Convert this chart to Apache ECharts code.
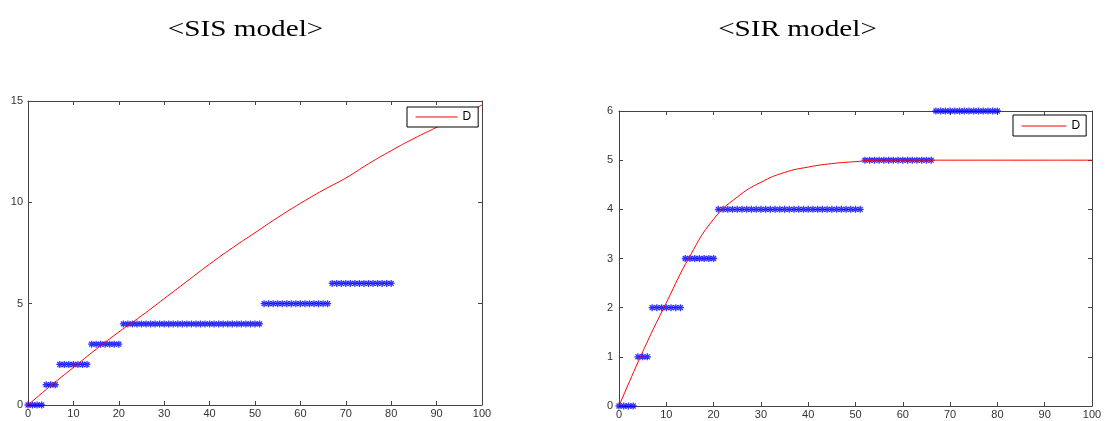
<!DOCTYPE html>
<html>
<head>
<meta charset="utf-8">
<script src="https://cdn.jsdelivr.net/npm/echarts@6/dist/echarts.min.js"></script>
<style>
html,body{margin:0;padding:0;background:#fff;}
#chart{width:1110px;height:421px;}
</style>
</head>
<body>
<div id="chart"></div>
<script>
// ---- data ----
const titles = ['<SIS model>', '<SIR model>'];
const xTicks = [0, 10, 20, 30, 40, 50, 60, 70, 80, 90, 100];
const sisYTicks = [0, 5, 10, 15];
const sirYTicks = [0, 1, 2, 3, 4, 5, 6];

// observed days (blue asterisks)
const days = [0,1,2,3,4,5,6,7,8,9,10,11,12,13,14,15,16,17,18,19,20,
  21,22,23,24,25,26,27,28,29,30,31,32,33,34,35,36,37,38,39,40,
  41,42,43,44,45,46,47,48,49,50,51,52,53,54,55,56,57,58,59,60,
  61,62,63,64,65,66,67,68,69,70,71,72,73,74,75,76,77,78,79,80];
const sisObserved = [0,0,0,0, 1,1,1, 2,2,2,2,2,2,2, 3,3,3,3,3,3,3,
  4,4,4,4,4,4,4,4,4,4,4,4,4,4,4,4,4,4,4,4,4,4,4,4,4,4,4,4,4,4,4,
  5,5,5,5,5,5,5,5,5,5,5,5,5,5,5,
  6,6,6,6,6,6,6,6,6,6,6,6,6,6];
const sirObserved = [0,0,0,0, 1,1,1, 2,2,2,2,2,2,2, 3,3,3,3,3,3,3,
  4,4,4,4,4,4,4,4,4,4,4,4,4,4,4,4,4,4,4,4,4,4,4,4,4,4,4,4,4,4,4,
  5,5,5,5,5,5,5,5,5,5,5,5,5,5,5,
  6,6,6,6,6,6,6,6,6,6,6,6,6,6];

// model curve D (red line)
const curveX = [0,5,10,15,20,25,30,35,40,45,50,55,60,65,70,75,80,85,90,95,100];
const sisD = [0,0.95,1.85,2.75,3.6,4.4,5.25,6.1,6.95,7.75,8.5,9.25,9.95,10.6,11.2,11.9,12.55,13.15,13.7,14.25,14.8];
const sirD = [0,1.1,2.1,3.05,3.8,4.25,4.55,4.75,4.86,4.93,4.97,5.0,5.0,5.0,5.0,5.0,5.0,5.0,5.0,5.0,5.0];

// ---- chart ----
const zip = (a, b) => a.map((v, i) => [v, b[i]]);
const AX = '#444';
const labelFont = {fontFamily: 'Liberation Sans', fontSize: 11, color: '#333'};
const starPath = 'path://M0,-1L0,1M-1,0L1,0M-0.7,-0.7L0.7,0.7M-0.7,0.7L0.7,-0.7';

function xAx(grid, pos, showLabel) {
  return {
    type: 'value', gridIndex: grid, position: pos, min: 0, max: 100, interval: 10,
    axisLine: {show: true, onZero: false, lineStyle: {color: AX, width: 1}},
    axisTick: {show: true, inside: true, length: 4, lineStyle: {color: AX}},
    axisLabel: Object.assign({show: showLabel, margin: 3}, labelFont),
    splitLine: {show: false}
  };
}
function yAx(grid, pos, max, interval, showLabel, margin) {
  return {
    type: 'value', gridIndex: grid, position: pos, min: 0, max: max, interval: interval,
    axisLine: {show: true, onZero: false, lineStyle: {color: AX, width: 1}},
    axisTick: {show: true, inside: true, length: 4, lineStyle: {color: AX}},
    axisLabel: Object.assign({show: showLabel, margin: margin}, labelFont),
    splitLine: {show: false}
  };
}

const chart = echarts.init(document.getElementById('chart'), null, {renderer: 'canvas'});
const legendBase = {
  data: ['D'],
  orient: 'horizontal', itemHeight: 12,
  backgroundColor: '#fff', borderColor: '#000', borderWidth: 1, borderRadius: 0,
  lineStyle: {width: 1, color: '#ff0000'},
  itemStyle: {opacity: 0},
  textStyle: {fontFamily: 'Liberation Sans', fontSize: 12, color: '#000'},
  selectedMode: false
};
chart.setOption({
  animation: false,
  backgroundColor: '#fff',
  graphic: [
    {type: 'text', x: 245.5, y: 30, scaleX: 1.27,
     style: {text: titles[0], font: '23px "Liberation Serif"', fill: '#000', align: 'center', verticalAlign: 'middle'}},
    {type: 'text', x: 797.5, y: 30, scaleX: 1.27,
     style: {text: titles[1], font: '23px "Liberation Serif"', fill: '#000', align: 'center', verticalAlign: 'middle'}}
  ],
  grid: [
    {left: 28, top: 101, right: 628, bottom: 16, containLabel: false},
    {left: 619, top: 111, right: 18, bottom: 15, containLabel: false}
  ],
  legend: [
    Object.assign({left: 407, top: 107, itemWidth: 42, padding: [4, 7, 4, 8]}, legendBase),
    Object.assign({left: 1013, top: 115, itemWidth: 45, padding: [5, 6, 4, 8]}, legendBase)
  ],
  xAxis: [xAx(0, 'bottom', true), xAx(0, 'top', false), xAx(1, 'bottom', true), xAx(1, 'top', false)],
  yAxis: [
    yAx(0, 'left', sisYTicks[sisYTicks.length - 1], sisYTicks[1] - sisYTicks[0], true, 5),
    yAx(0, 'right', sisYTicks[sisYTicks.length - 1], sisYTicks[1] - sisYTicks[0], false, 5),
    yAx(1, 'left', sirYTicks[sirYTicks.length - 1], sirYTicks[1] - sirYTicks[0], true, 6),
    yAx(1, 'right', sirYTicks[sirYTicks.length - 1], sirYTicks[1] - sirYTicks[0], false, 6)
  ],
  series: [
    {name: 'observed', type: 'scatter', xAxisIndex: 0, yAxisIndex: 0, data: zip(days, sisObserved),
     symbol: starPath, symbolSize: 7, z: 2,
     itemStyle: {color: '#0000ff', borderColor: '#0000ff', borderWidth: 1.3}},
    {name: 'D', type: 'line', xAxisIndex: 0, yAxisIndex: 0, data: zip(curveX, sisD),
     symbol: 'none', smooth: 0.5, z: 3,
     lineStyle: {color: '#ff0000', width: 1}, itemStyle: {color: '#ff0000'}},
    {name: 'observed2', type: 'scatter', xAxisIndex: 2, yAxisIndex: 2, data: zip(days, sirObserved),
     symbol: starPath, symbolSize: 7, z: 2,
     itemStyle: {color: '#0000ff', borderColor: '#0000ff', borderWidth: 1.3}},
    {name: 'D', type: 'line', xAxisIndex: 2, yAxisIndex: 2, data: zip(curveX, sirD),
     symbol: 'none', smooth: 0.5, z: 3,
     lineStyle: {color: '#ff0000', width: 1}, itemStyle: {color: '#ff0000'}}
  ]
});
</script>
</body>
</html>
